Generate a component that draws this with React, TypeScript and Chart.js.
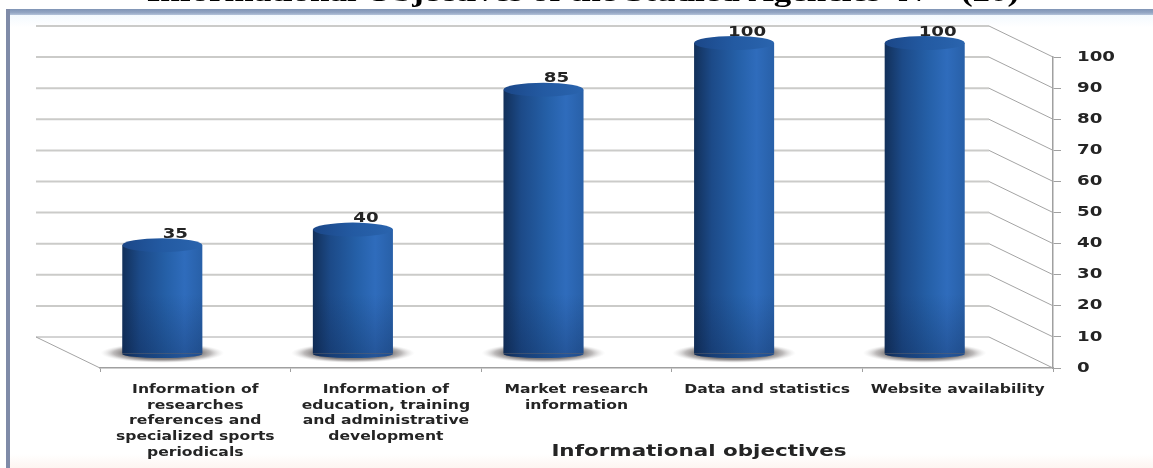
import React, { useEffect, useRef } from "react";
import { Chart, registerables } from "chart.js";

Chart.register(...registerables);

const categories: string[][] = [
  ["Information of", "researches", "references and", "specialized sports", "periodicals"],
  ["Information of", "education, training", "and administrative", "development"],
  ["Market research", "information"],
  ["Data and statistics"],
  ["Website availability"],
];
const values = [35, 40, 85, 100, 100];
const chartTitle = "Informational Objectives of the Studied Agencies  N = (20)";
const xAxisTitle = "Informational objectives";

const DEPTH_X = -64;
const DEPTH_Y = -31;
const BAR_SHIFT_X = -33;
const BAR_SHIFT_Y = -14;
const TEXT = "#242424";
const SANS = "'DejaVu Sans', sans-serif";
const STRETCH = 1.3;

function stretchedText(ctx: any, text: string, x: number, y: number, k: number) {
  ctx.save();
  ctx.translate(x, y);
  ctx.scale(k, 1);
  ctx.fillText(text, 0, 0);
  ctx.restore();
}

const scene = {
  id: "scene",
  beforeDraw(chart: any) {
    const { ctx, width, height, scales } = chart;
    ctx.save();
    const bg = ctx.createLinearGradient(0, 9, 0, height);
    bg.addColorStop(0, "#eef7fe");
    bg.addColorStop(0.04, "#ffffff");
    bg.addColorStop(0.97, "#ffffff");
    bg.addColorStop(1, "#fdf5f1");
    ctx.fillStyle = bg;
    ctx.fillRect(6, 9, width - 6, height - 9);
    const band = ctx.createLinearGradient(0, 9, 0, 15);
    band.addColorStop(0, "#7f94b5");
    band.addColorStop(0.6, "#93a6c4");
    band.addColorStop(1, "#b4c4da");
    ctx.fillStyle = band;
    ctx.fillRect(6, 9, width - 6, 6);
    ctx.fillStyle = "#7f8ba8";
    ctx.fillRect(6, 9, 4, height - 9);
    ctx.restore();

    // the reference's lettering is stretched sideways: keep the scale's own layout, widen the glyphs
    const wrap = (s: any) => {
      if (s.__wrapped) return;
      s.__wrapped = true;
      s.drawLabels = function (area: any) {
        for (const item of this.getLabelItems(area)) {
          const o = item.options;
          ctx.save();
          ctx.font = item.font.string;
          ctx.fillStyle = o.color;
          ctx.textAlign = o.textAlign;
          ctx.textBaseline = o.textBaseline;
          const lines = Array.isArray(item.label) ? item.label : [item.label];
          let ly = item.textOffset;
          for (const line of lines) {
            stretchedText(ctx, line, o.translation[0], o.translation[1] + ly, STRETCH);
            ly += Number(item.font.lineHeight);
          }
          ctx.restore();
        }
      };
    };
    wrap(scales.x);
    wrap(scales.y);

    const tb = chart.titleBlock;
    if (tb && !tb.__wrapped) {
      tb.__wrapped = true;
      const orig = tb.draw;
      tb.draw = function () {
        ctx.save();
        ctx.translate(583, 0);
        ctx.scale(1.25, 1);
        ctx.translate(-626.5, 0);
        orig.call(this);
        ctx.restore();
      };
    }
  },
  beforeDatasetsDraw(chart: any) {
    const { ctx, scales, chartArea } = chart;
    const y = scales.y;
    ctx.save();
    // back wall grid and depth lines
    for (const t of y.ticks) {
      const py = y.getPixelForValue(t.value);
      ctx.strokeStyle = t.value === 0 ? "#a8a8a8" : "#cbcbc9";
      ctx.lineWidth = t.value === 0 ? 1 : 2;
      ctx.beginPath();
      ctx.moveTo(chartArea.left + DEPTH_X, py + DEPTH_Y);
      ctx.lineTo(chartArea.right + DEPTH_X, py + DEPTH_Y);
      ctx.stroke();
      ctx.strokeStyle = "#a4a4a4";
      ctx.lineWidth = 1;
      ctx.beginPath();
      ctx.moveTo(chartArea.right + DEPTH_X, py + DEPTH_Y);
      ctx.lineTo(chartArea.right, py);
      ctx.stroke();
    }
    // floor left edge
    const base = y.getPixelForValue(0);
    ctx.beginPath();
    ctx.moveTo(chartArea.left + DEPTH_X, base + DEPTH_Y);
    ctx.lineTo(chartArea.left, base);
    ctx.stroke();
    ctx.restore();

    // bars live half way into the depth of the floor
    ctx.save();
    ctx.translate(BAR_SHIFT_X, BAR_SHIFT_Y);
    const baseY = y.getPixelForValue(0);
    for (const el of chart.getDatasetMeta(0).data) {
      ctx.save();
      ctx.translate(el.x, baseY - 1);
      ctx.scale(1, 10 / 62);
      const g = ctx.createRadialGradient(0, 0, 38, 0, 0, 62);
      g.addColorStop(0, "rgba(95,90,90,0.8)");
      g.addColorStop(0.45, "rgba(135,130,130,0.55)");
      g.addColorStop(1, "rgba(215,215,215,0)");
      ctx.fillStyle = g;
      ctx.beginPath();
      ctx.arc(0, 0, 62, 0, Math.PI * 2);
      ctx.fill();
      ctx.restore();
    }
  },
  afterDatasetsDraw(chart: any) {
    const { ctx, scales } = chart;
    const y = scales.y;
    const baseY = y.getPixelForValue(0);
    const meta = chart.getDatasetMeta(0);
    meta.data.forEach((el: any) => {
      const opts = el.options;
      const rx = el.width / 2;
      // rounded foot of the cylinder
      ctx.fillStyle = opts.backgroundColor;
      ctx.beginPath();
      ctx.ellipse(el.x, baseY, rx, 4, 0, 0, Math.PI);
      ctx.fill();
      // the lower part of each cylinder falls into shade
      const shade = ctx.createLinearGradient(0, baseY - 60, 0, baseY + 4);
      shade.addColorStop(0, "rgba(10,30,70,0)");
      shade.addColorStop(1, "rgba(10,30,70,0.3)");
      ctx.fillStyle = shade;
      ctx.beginPath();
      ctx.moveTo(el.x - rx, baseY - 60);
      ctx.lineTo(el.x + rx, baseY - 60);
      ctx.lineTo(el.x + rx, baseY);
      ctx.ellipse(el.x, baseY, rx, 4, 0, 0, Math.PI);
      ctx.closePath();
      ctx.fill();
      // cap
      const cap = ctx.createLinearGradient(el.x - rx, 0, el.x + rx, 0);
      cap.addColorStop(0, "#1b4788");
      cap.addColorStop(0.5, "#235aa2");
      cap.addColorStop(1, "#2a64ae");
      ctx.fillStyle = cap;
      ctx.beginPath();
      ctx.ellipse(el.x, el.y, rx, 7, 0, 0, Math.PI * 2);
      ctx.fill();
    });
    ctx.restore();

    ctx.save();
    ctx.fillStyle = TEXT;
    ctx.textAlign = "center";
    ctx.textBaseline = "middle";
    ctx.font = `bold 14px ${SANS}`;
    meta.data.forEach((el: any, i: number) => {
      stretchedText(ctx, String(values[i]), el.x + BAR_SHIFT_X + 13, el.y + BAR_SHIFT_Y - 11, STRETCH);
    });
    ctx.font = `bold 15px ${SANS}`;
    stretchedText(ctx, xAxisTitle, 699, 452, 1.43);
    ctx.restore();
  },
};

export default function App() {
  const ref = useRef<HTMLCanvasElement>(null);
  useEffect(() => {
    const chart = new Chart(ref.current as HTMLCanvasElement, {
      type: "bar",
      data: {
        labels: categories,
        datasets: [
          {
            data: values,
            barPercentage: 0.42,
            categoryPercentage: 1,
            clip: false,
            borderWidth: 0,
            backgroundColor: (c: any) => {
              const ch = c.chart;
              const sx = ch.scales && ch.scales.x;
              if (!sx) return "#23589f";
              const cx = sx.getPixelForValue(c.dataIndex);
              if (!Number.isFinite(cx)) return "#23589f";
              const g = ch.ctx.createLinearGradient(cx - 40, 0, cx + 40, 0);
              g.addColorStop(0, "#12305a");
              g.addColorStop(0.22, "#1c4a88");
              g.addColorStop(0.55, "#2560a8");
              g.addColorStop(0.78, "#2f6cbc");
              g.addColorStop(1, "#2860a8");
              return g;
            },
          } as any,
        ],
      },
      options: {
        responsive: false,
        animation: false,
        layout: { padding: { left: 100, right: 0, top: 0, bottom: 0 } },
        plugins: {
          legend: { display: false },
          tooltip: { enabled: false },
          title: {
            display: true,
            text: chartTitle,
            color: "#000000",
            font: { family: "'Liberation Serif', serif", size: 28, weight: "bold", lineHeight: 1.2 },
            padding: { top: -23, bottom: 46.4 },
          },
        },
        scales: {
          x: {
            grid: { drawOnChartArea: false, tickLength: 4, color: "#a0a0a0" },
            border: { display: true, color: "#a0a0a0", width: 1.5 },
            afterFit: (s: any) => {
              s.height = 100;
            },
            ticks: {
              color: TEXT,
              maxRotation: 0,
              minRotation: 0,
              autoSkip: false,
              padding: 10,
              font: { family: SANS, size: 12, weight: "bold", lineHeight: 1.31 },
            },
          },
          y: {
            position: "right",
            min: 0,
            max: 100,
            grid: { drawOnChartArea: false, tickLength: 8, color: "#a0a0a0" },
            border: { display: true, color: "#a0a0a0", width: 1.5 },
            afterFit: (s: any) => {
              s.width = 100;
            },
            ticks: {
              stepSize: 10,
              color: TEXT,
              padding: 16,
              font: { family: SANS, size: 14, weight: "bold" },
            },
          },
        },
      },
      plugins: [scene],
    } as any);
    return () => chart.destroy();
  }, []);
  return (
    <div style={{ position: "absolute", left: 0, top: 0 }}>
      <canvas ref={ref} width={1153} height={468} style={{ display: "block" }} />
    </div>
  );
}
